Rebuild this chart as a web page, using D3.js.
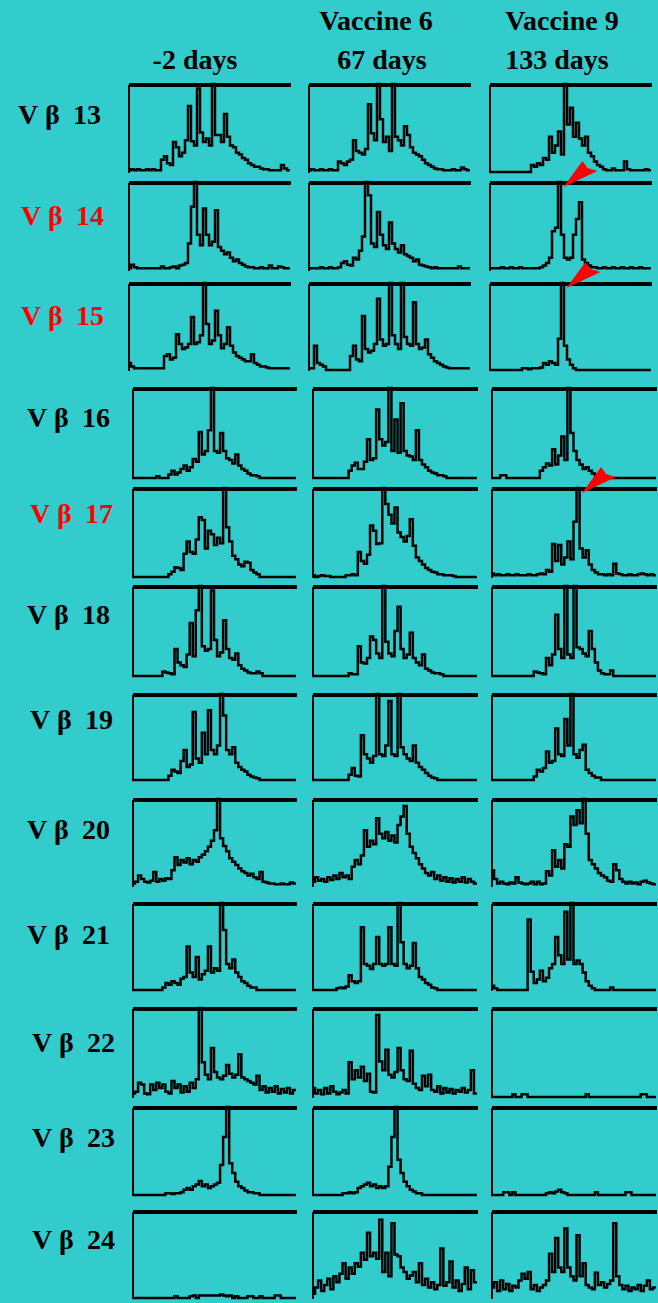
<!DOCTYPE html>
<html>
<head>
<meta charset="utf-8">
<script src="https://cdn.jsdelivr.net/npm/d3@7"></script>
<style>
  html, body { margin: 0; padding: 0; background: #33cccc; }
  svg { display: block; }
</style>
</head>
<body>
<div id="chart"></div>
<script>
// column headers
const vaccines = ["", "Vaccine 6", "Vaccine 9"];
const timepoints = ["-2 days", "67 days", "133 days"];

// V beta families (rows); red ones are the expanded clones
const families = [13, 14, 15, 16, 17, 18, 19, 20, 21, 22, 23, 24];
const highlighted = [14, 15, 17];

// spectratype traces, % of panel height per CDR3 length bin, [-2 d, 67 d, 133 d]
const vb13 = [
  [2,3,2,3,2,2,3,2,3,2, 2,14,18,10,8,34,28,18,22,36, 75,35,30,95,45,34,38,30,100,42, 42,34,66,40,30,28,22,20,16,14, 10,8,6,6,4,3,3,2,2,2, 2,8,4,2],
  [2,3,2,2,3,2,2,3,2,2, 12,10,8,12,14,36,24,22,20,26, 77,44,36,100,60,34,40,24,100,40, 36,30,52,42,28,22,20,18,14,10, 8,6,4,3,3,2,2,2,3,2, 2,5,3,2],
  [0,0,0,0,0,0,0,0,0,0, 0,0,0,0,8,6,10,8,16,14, 40,22,30,46,20,100,54,73,40,56, 38,30,40,22,18,12,8,6,3,2, 2,4,2,2,2,12,3,2,2,2, 2,2,3,2]
];
const vb14 = [
  [2,6,3,2,2,2,2,2,2,2, 2,4,2,2,3,4,2,5,6,8, 30,72,100,40,28,70,40,28,32,68, 26,22,18,20,14,10,12,8,6,4, 3,3,2,2,3,2,2,5,2,2, 4,3,2,2],
  [2,2,2,2,3,2,2,3,2,2, 3,8,10,6,5,14,12,22,38,100, 85,30,26,66,40,28,24,54,30,24, 20,28,18,16,14,10,12,6,5,4, 3,2,3,2,2,2,2,2,2,2, 4,2,2,2],
  [2,2,2,2,3,2,2,3,2,2, 3,2,2,2,2,2,2,3,5,8, 14,44,48,100,40,14,12,14,40,58, 77,12,8,5,3,3,2,2,3,2, 2,3,2,2,3,2,2,3,2,2, 3,2,2,2]
];
const vb15 = [
  [8,4,2,2,2,2,2,2,2,2, 2,2,16,18,12,14,41,30,24,26, 30,61,30,32,40,100,53,30,34,68, 40,25,30,49,28,20,16,14,12,10, 10,18,8,6,4,4,3,2,2,2, 2,2,2,2],
  [2,2,28,8,6,4,0,0,0,0, 0,0,0,0,16,28,12,10,62,24, 20,22,30,82,35,28,30,100,40,30, 24,100,38,30,28,78,30,24,26,35, 18,14,10,8,6,4,3,2,2,2, 2,2,2,2],
  [0,0,0,0,0,0,0,0,0,0, 0,2,2,1,2,2,2,3,8,6, 10,8,6,36,100,28,12,6,2,0, 0,0,0,0,0,0,0,0,0,0, 0,0,0,0,0,0,0,0,0,0, 0,0,0,0]
];
const vb16 = [
  [0,0,0,0,0,0,0,0,2,0, 0,0,4,8,4,6,10,14,8,12, 21,18,51,26,30,53,100,30,28,50, 30,22,20,16,26,14,10,8,5,3, 3,2,0,0,0,0,0,0,0,0, 0,0,0,0],
  [0,0,0,0,0,0,0,0,0,0, 0,0,8,14,17,10,10,18,43,20, 22,76,43,36,40,100,30,65,28,83, 30,25,24,20,53,20,15,12,8,6, 5,3,3,2,0,0,0,0,0,0, 0,0,0,0],
  [0,0,0,3,3,0,0,0,0,0, 0,0,0,0,0,0,8,12,16,14, 32,15,25,46,20,100,50,30,20,15, 10,12,8,5,3,2,0,0,0,0, 0,0,0,0,0,0,0,0,0,0, 0,0,0,0]
];
const vb17 = [
  [0,0,0,0,0,0,0,0,0,0, 0,0,3,6,11,10,8,26,40,28, 26,42,67,64,32,52,48,36,44,38, 100,56,40,24,20,14,12,17,16,8, 5,3,0,0,0,0,0,0,0,0, 0,0,0,0],
  [2,0,1,2,1,1,0,0,0,0, 0,2,2,3,2,28,18,15,25,58, 52,37,38,100,82,70,60,78,50,45, 40,46,65,35,22,18,14,10,8,6, 5,3,3,2,2,2,1,0,0,0, 0,0,0,0],
  [4,2,3,2,2,3,2,2,3,2, 2,2,3,2,2,3,4,3,8,6, 37,18,36,14,22,40,20,62,100,32, 22,30,14,8,5,3,3,2,3,2, 15,4,3,2,2,3,2,2,3,4, 3,2,3,2]
];
const vb18 = [
  [0,0,0,0,0,0,0,0,0,0, 5,4,3,2,30,15,12,10,24,59, 22,73,100,33,28,30,95,40,22,26, 62,30,20,18,25,12,8,6,4,3, 3,5,3,0,0,0,0,0,0,0, 0,0,0,0],
  [0,0,0,0,0,0,0,0,0,0, 0,0,3,2,2,33,15,14,20,44, 40,25,20,100,38,25,22,50,77,30, 20,24,48,20,15,12,24,8,6,4, 3,3,2,0,0,0,0,0,0,0, 0,0,0,0],
  [0,0,0,0,0,0,0,0,0,0, 0,0,0,0,5,4,3,2,20,12, 24,68,30,20,100,24,20,100,32,30, 25,22,50,30,15,6,3,2,2,6, 0,0,0,0,0,0,0,0,0,0, 0,0,0,0]
];
const vb19 = [
  [0,0,0,0,0,0,0,0,0,0, 0,0,5,12,10,8,22,35,15,18, 79,25,20,55,30,81,35,30,40,100, 75,35,30,38,20,15,12,10,6,4, 3,2,0,0,0,0,0,0,0,0, 0,0,0,0],
  [0,0,0,0,0,0,0,0,0,0, 0,0,6,14,5,4,52,30,25,20, 28,100,30,28,40,92,30,28,100,38, 30,25,22,40,20,15,12,8,5,3, 2,0,0,0,0,0,0,0,0,0, 0,0,0,0],
  [0,0,0,0,0,0,0,0,0,0, 0,0,0,0,4,12,10,14,33,20, 22,60,30,28,71,40,100,30,26,35, 41,12,8,5,3,3,0,0,0,0, 0,0,0,0,0,0,0,0,0,0, 0,0,0,0]
];
const vb20 = [
  [3,5,12,8,5,4,6,16,5,8, 6,9,8,18,33,24,30,27,32,25, 30,28,33,36,40,45,52,64,100,55, 46,40,32,28,24,20,17,15,12,14, 10,8,16,5,4,3,3,2,2,3, 2,2,4,3],
  [5,10,6,8,5,10,7,12,8,15, 10,12,8,22,30,25,35,64,45,52, 48,78,60,55,62,52,58,50,70,80, 92,60,45,38,32,25,20,15,12,16, 8,12,6,10,5,9,4,8,5,10, 4,8,5,3],
  [18,8,3,5,3,2,4,3,10,4, 3,2,3,5,2,5,2,3,17,12, 41,22,30,20,48,45,80,70,87,72, 100,60,30,25,20,15,12,10,6,5, 25,18,8,5,3,5,3,4,2,5, 6,4,3,2]
];
const vb21 = [
  [0,0,0,0,0,0,0,0,0,0, 3,8,6,10,8,6,13,15,50,20, 15,38,12,18,22,50,20,25,22,100, 69,30,25,35,20,15,10,8,5,3, 3,0,0,0,0,0,0,0,0,0, 0,0,0,0],
  [0,0,0,0,0,0,0,0,2,3, 2,4,17,10,8,10,72,30,28,24, 30,61,30,28,30,72,30,28,100,55, 30,25,28,54,25,15,12,8,6,3, 2,0,0,0,0,0,0,0,0,0, 0,0,0,0],
  [5,2,0,0,0,0,0,0,0,0, 0,0,81,21,8,12,22,10,14,25, 30,61,40,30,90,35,100,30,34,30, 20,10,5,2,0,0,0,0,0,3, 0,0,0,0,0,0,0,0,0,0, 0,0,0,0]
];
const vb22 = [
  [4,6,16,14,4,3,14,8,16,10, 14,6,4,18,10,14,5,12,6,16, 10,20,100,39,25,20,55,28,22,20, 24,36,26,22,25,48,22,20,18,16, 14,24,8,12,5,10,6,12,4,9, 5,10,4,8],
  [10,4,8,3,10,4,12,6,3,5, 8,4,39,20,30,22,34,18,26,6, 5,92,40,30,53,25,22,28,55,30, 20,18,52,15,10,8,24,12,25,8, 6,12,4,10,5,9,4,8,6,10, 5,8,30,4],
  [0,0,0,0,0,0,0,3,0,0, 3,3,0,0,0,0,0,0,0,0, 0,0,0,0,0,0,0,0,0,0, 0,3,0,0,0,0,0,0,0,0, 0,0,0,0,0,0,0,0,0,3, 3,0,0,0]
];
const vb23 = [
  [0,0,0,0,0,0,0,0,0,0, 0,2,2,1,2,2,3,6,8,6, 10,12,16,10,12,8,10,12,14,34, 66,100,36,25,15,10,8,5,3,3, 2,2,0,0,0,0,0,0,0,0, 0,0,0,0],
  [0,0,0,0,0,0,0,0,0,0, 2,2,3,2,3,8,10,12,14,10, 12,8,10,8,10,32,66,100,40,25, 15,10,6,4,2,2,0,0,0,0, 0,0,0,0,0,0,0,0,0,0, 0,0,0,0],
  [0,0,0,0,3,3,0,3,0,0, 0,0,0,0,0,0,0,0,2,3, 2,4,6,3,2,0,0,0,0,0, 0,0,0,0,3,0,0,0,0,0, 0,0,0,0,3,3,0,0,0,0, 0,0,0,0]
];
const vb24 = [
  [0,0,0,0,0,0,0,0,0,0, 0,0,0,0,2,0,0,0,0,2, 3,0,3,3,3,3,3,3,3,4, 3,2,3,0,2,0,0,0,2,2, 0,0,2,0,0,0,0,3,3,0, 0,0,0,0],
  [5,12,20,8,15,22,10,25,18,28, 40,22,35,28,40,36,52,44,75,48, 52,45,90,30,52,25,86,50,48,35, 30,22,26,30,18,40,15,22,12,18, 10,15,57,14,18,42,12,20,8,16, 35,10,32,18],
  [12,18,8,20,10,16,8,14,12,20, 28,22,30,10,15,8,12,15,20,51, 30,69,35,30,80,35,25,20,72,25, 40,15,12,10,29,15,18,12,16,20, 86,25,15,10,14,8,12,10,15,8, 14,20,10,12]
];
const traces = [vb13, vb14, vb15, vb16, vb17, vb18, vb19, vb20, vb21, vb22, vb23, vb24];

// red arrowheads: family, column, peak bin they point at
const arrows = [
  { family: 14, col: 2, bin: 23 },
  { family: 15, col: 2, bin: 24 },
  { family: 17, col: 2, bin: 28 }
];

// ---- layout ----
const width = 658, height = 1303;
const rowTop  = [84, 182, 283, 388, 488, 586, 694, 799, 903, 1008, 1107, 1211];
const rowBase = [172, 270, 370, 478, 577, 676, 780, 886, 990, 1097, 1195, 1298];
const colsUpper = [[128, 290], [308, 470], [489, 651]];
const colsLower = [[132, 296], [312, 477], [491, 656]];
const labelPos = [[18,124],[21,225],[21,325],[27,427],[30,523],[27,624],[30,729],[27,839],[27,944],[32,1052],[32,1147],[32,1249]];
const headerX = [195, 382, 557];
const vaccineX = [0, 376, 562];
const font = "'Liberation Serif', 'Times New Roman', serif";

const svg = d3.select("#chart")
  .append("svg")
  .attr("width", width)
  .attr("height", height);

svg.append("rect")
  .attr("width", width)
  .attr("height", height)
  .attr("fill", "#33cccc");

// headers
svg.append("g")
  .selectAll("text")
  .data(vaccines.filter(v => v))
  .enter()
  .append("text")
  .attr("x", (d, i) => vaccineX[i + 1])
  .attr("y", 30)
  .attr("text-anchor", "middle")
  .attr("font-family", font)
  .attr("font-weight", "bold")
  .attr("font-size", 28)
  .text(d => d);

svg.append("g")
  .selectAll("text")
  .data(timepoints)
  .enter()
  .append("text")
  .attr("x", (d, i) => headerX[i])
  .attr("y", 69)
  .attr("text-anchor", "middle")
  .attr("font-family", font)
  .attr("font-weight", "bold")
  .attr("font-size", 28)
  .text(d => d);

// row labels
families.forEach((fam, r) => {
  const [lx, ly] = labelPos[r];
  const t = svg.append("text")
    .attr("x", lx)
    .attr("y", ly)
    .attr("font-family", font)
    .attr("font-weight", "bold")
    .attr("font-size", 28)
    .attr("fill", highlighted.includes(fam) ? "#ff0000" : "#000000");
  t.append("tspan").text("V");
  t.append("tspan").attr("x", lx + 27).text("β");
  t.append("tspan").attr("x", lx + 55).text(fam);
});

// panels
const scales = {};
families.forEach((fam, r) => {
  const cols = r < 3 ? colsUpper : colsLower;
  const yScale = d3.scaleLinear().domain([0, 100]).range([rowBase[r], rowTop[r]]);

  traces[r].forEach((vals, c) => {
    const xScale = d3.scaleLinear().domain([0, vals.length]).range(cols[c]);
    scales[fam + "-" + c] = { x: xScale, y: yScale };

    const g = svg.append("g");

    const pts = vals.map((v, i) => [i, v]).concat([[vals.length, vals[vals.length - 1]]]);
    const line = d3.line()
      .x(d => xScale(d[0]))
      .y(d => yScale(d[1]))
      .curve(d3.curveStepAfter);

    g.append("path")
      .attr("d", line(pts))
      .attr("fill", "none")
      .attr("stroke", "#000")
      .attr("stroke-width", 2.5)
      .attr("stroke-linejoin", "miter");

    // frame: heavy top rule and thin left rule
    const topAxis = d3.axisTop(xScale).tickValues([]).tickSizeOuter(0);
    g.append("g")
      .attr("transform", `translate(0,${yScale(100)})`)
      .attr("shape-rendering", "crispEdges")
      .call(topAxis)
      .select(".domain")
      .attr("stroke", "#000")
      .attr("stroke-width", 4);

    const leftAxis = d3.axisLeft(yScale).tickValues([]).tickSizeOuter(0);
    g.append("g")
      .attr("transform", `translate(${xScale(0)},0)`)
      .attr("shape-rendering", "crispEdges")
      .call(leftAxis)
      .select(".domain")
      .attr("stroke", "#000")
      .attr("stroke-width", 2);
  });
});

// red arrowheads pointing at the expanded peaks
arrows.forEach(a => {
  const s = scales[a.family + "-" + a.col];
  const tx = s.x(a.bin + 0.5) + 4;
  const ty = s.y(100) + 5;
  const p = d3.path();
  p.moveTo(tx, ty);
  p.lineTo(tx + 19, ty - 26);
  p.lineTo(tx + 24, ty - 19);
  p.lineTo(tx + 34, ty - 16);
  p.closePath();
  svg.append("path")
    .attr("d", p.toString())
    .attr("fill", "#ff0000");
});
</script>
</body>
</html>
